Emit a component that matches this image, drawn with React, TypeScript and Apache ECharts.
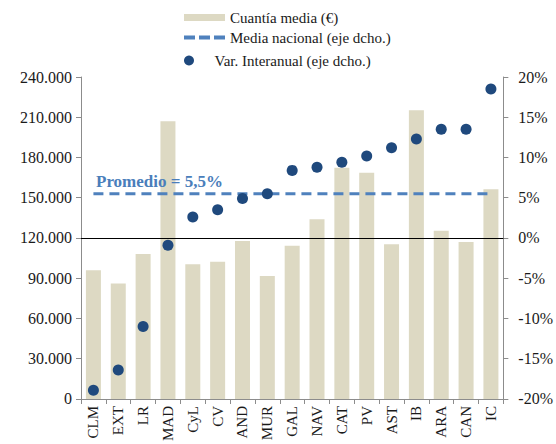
import React, { useEffect, useRef } from "react";
import * as echarts from "echarts";

const categories = ["CLM", "EXT", "LR", "MAD", "CyL", "CV", "AND", "MUR", "GAL", "NAV", "CAT", "PV", "AST", "IB", "ARA", "CAN", "IC"];
const cuantiaMedia = [96000, 86000, 108000, 207000, 100500, 102300, 117800, 91700, 114300, 134000, 172400, 168700, 115300, 215200, 125400, 117000, 156300];
const varInteranual = [-18.9, -16.4, -11.0, -0.9, 2.6, 3.5, 4.9, 5.5, 8.4, 8.8, 9.4, 10.2, 11.2, 12.3, 13.5, 13.5, 18.5];
const mediaNacional = 5.5;
const leftTicks = [0, 30000, 60000, 90000, 120000, 150000, 180000, 210000, 240000];

const FONT = "'Liberation Serif', 'Times New Roman', 'DejaVu Serif', serif";

function fmtThousands(v: number): string {
  return String(Math.round(v)).replace(/\B(?=(\d{3})+(?!\d))/g, ".");
}

export default function App() {
  const ref = useRef<HTMLDivElement>(null);
  useEffect(() => {
    if (!ref.current) return;
    document.body.style.margin = "0";
    const chart = echarts.init(ref.current, undefined, { renderer: "svg" });
    const axisColor = "#8c8c8c";
    const textStyle = { fontFamily: FONT, fontSize: 15, color: "#1a1a1a" };
    chart.setOption({
      animation: false,
      textStyle: { fontFamily: FONT },
      grid: { left: 81, right: 48, top: 77, bottom: 45 },
      legend: [
        {
          data: ["Cuantía media (€)"],
          left: 184, top: 10, padding: 0, itemWidth: 41, itemHeight: 7, itemGap: 6,
          textStyle, icon: "rect",
        },
        {
          data: [{ name: "Media nacional (eje dcho.)", icon: "path://M0,0H11V4H0Z M15,0H26V4H15Z M30,0H41V4H30Z" }],
          left: 184, top: 30, padding: 0, itemWidth: 41, itemHeight: 4, itemGap: 6,
          symbolKeepAspect: false,
          textStyle,
        },
        {
          data: ["Var. Interanual (eje dcho.)"],
          left: 184, top: 53, padding: 0, itemWidth: 41, itemHeight: 10, itemGap: 6,
          textStyle, icon: "circle",
        },
      ],
      xAxis: {
        type: "category",
        data: categories,
        axisLine: { lineStyle: { color: axisColor, width: 1 } },
        axisTick: { show: true, length: 5, lineStyle: { color: axisColor } },
        axisLabel: { rotate: 90, fontFamily: FONT, fontSize: 15, color: "#1a1a1a", margin: 7, interval: 0 },
      },
      yAxis: [
        {
          type: "value", min: 0, max: 240000, interval: 30000,
          splitLine: { show: false },
          axisLine: { show: true, lineStyle: { color: axisColor } },
          axisTick: { show: true, length: 5, lineStyle: { color: axisColor } },
          axisLabel: {
            fontFamily: FONT, fontSize: 16, color: "#1a1a1a", margin: 9,
            formatter: (v: number) => (leftTicks.includes(v) ? fmtThousands(v) : ""),
          },
        },
        {
          type: "value", min: -20, max: 20, interval: 5, position: "right",
          splitLine: { show: false },
          axisLine: { show: true, lineStyle: { color: axisColor } },
          axisTick: { show: true, length: 5, lineStyle: { color: axisColor } },
          axisLabel: { fontFamily: FONT, fontSize: 16, color: "#1a1a1a", margin: 15, formatter: (v: number) => v + "%" },
        },
      ],
      series: [
        {
          name: "Cuantía media (€)",
          type: "bar",
          data: cuantiaMedia,
          barWidth: 15,
          itemStyle: { color: "#ddd9c3" },
          z: 1,
        },
        {
          name: "Media nacional (eje dcho.)",
          type: "line",
          yAxisIndex: 1,
          data: categories.map(() => mediaNacional),
          symbol: "none",
          lineStyle: { color: "#4f81bd", width: 3, type: [10, 6] },
          itemStyle: { color: "#4f81bd" },
          z: 3,
        },
        {
          name: "Var. Interanual (eje dcho.)",
          type: "scatter",
          yAxisIndex: 1,
          data: varInteranual,
          symbolSize: 11,
          itemStyle: { color: "#1f497d", opacity: 1 },
          z: 4,
          markLine: {
            silent: true,
            symbol: "none",
            label: { show: false },
            lineStyle: { color: "#000", width: 1, type: "solid" },
            data: [{ yAxis: 0 }],
            z: 2,
          },
        },
      ],
      graphic: [
        {
          type: "text",
          left: 96,
          top: 173,
          z: 10,
          style: {
            text: "Promedio = 5,5%",
            fontFamily: FONT,
            fontSize: 17,
            fontWeight: "bold",
            fill: "#4a7ebb",
          },
        },
      ],
    });
    return () => chart.dispose();
  }, []);
  return <div ref={ref} style={{ width: 556, height: 444 }} />;
}
